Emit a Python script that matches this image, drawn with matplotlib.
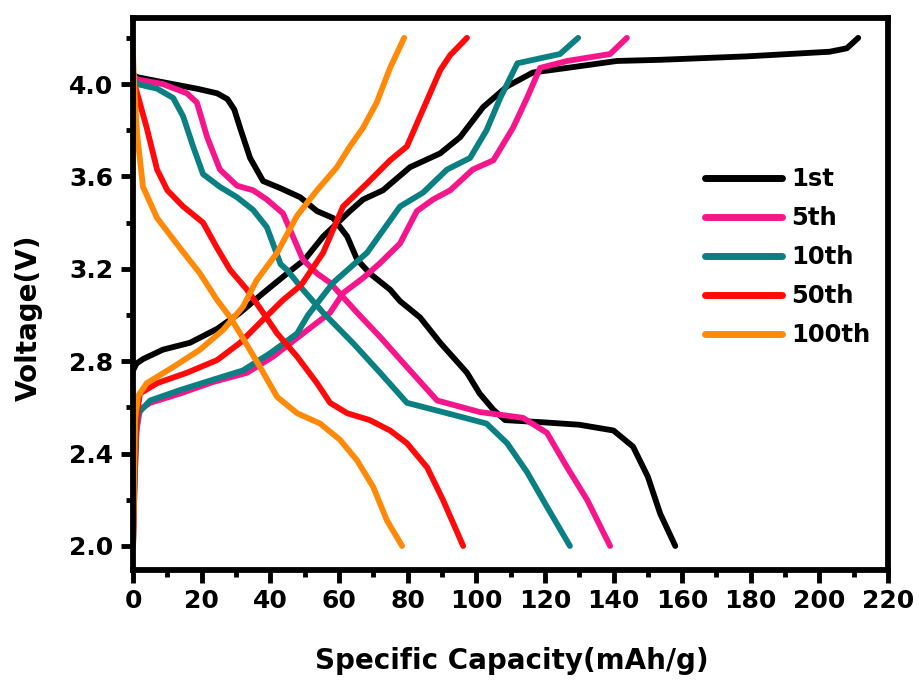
import matplotlib
matplotlib.use("Agg")
import matplotlib.pyplot as plt
from matplotlib.ticker import MultipleLocator

plt.rcParams['font.family'] = ['DejaVu Sans']
plt.rcParams['font.weight'] = 'bold'

labels = ['1st', '5th', '10th', '50th', '100th']
colors = ['#000000', '#F5168C', '#0A8082', '#FF0A0A', '#FF8A0A']

# discharge curves
dis_x_1 = [0, 1.2, 8, 18.6, 24.5, 27.5, 29.5, 31.2, 34.1, 37.9, 42.8, 48.7, 53.6, 58.3, 62.4, 65.3, 69, 74.9,
           77.8, 83.6, 89.5, 97.3, 101, 105, 108.4, 120, 130, 140, 145.7, 150, 153.6, 158]
dis_v_1 = [4.04, 4.03, 4.01, 3.98, 3.96, 3.935, 3.89, 3.81, 3.68, 3.58, 3.55, 3.51, 3.45, 3.42, 3.34, 3.24, 3.18, 3.11,
           3.06, 2.99, 2.88, 2.75, 2.66, 2.59, 2.545, 2.535, 2.525, 2.50, 2.43, 2.30, 2.14, 2.0]
dis_x_5 = [0, 1.2, 8.7, 15.7, 18.6, 21.6, 25.3, 30.3, 35, 39, 43.7, 46.6, 49.5, 53.6, 57.4, 65.3, 72,
           79.8, 88.6, 101, 113.6, 120.6, 126.5, 132.3, 139]
dis_v_5 = [4.04, 4.02, 4.0, 3.96, 3.92, 3.77, 3.63, 3.56, 3.54, 3.50, 3.44, 3.34, 3.24, 3.18, 3.14, 3.01, 2.905,
           2.775, 2.63, 2.58, 2.555, 2.49, 2.34, 2.20, 2.0]
dis_x_10 = [0, 1.2, 7, 11.7, 14.6, 17.5, 20.4, 25.3, 30.3, 35, 39, 41, 43, 44.9, 49.5, 55.4, 64, 72,
            79.8, 91.5, 103, 109, 114.8, 120.6, 127.3]
dis_v_10 = [4.03, 4.0, 3.98, 3.94, 3.86, 3.73, 3.61, 3.555, 3.51, 3.455, 3.38, 3.30, 3.22, 3.195, 3.11, 3.01, 2.88, 2.75,
            2.62, 2.575, 2.53, 2.445, 2.32, 2.17, 2.0]
dis_x_50 = [0, 1.2, 4, 7, 10, 14.6, 20.4, 24.5, 28.3, 33.2, 37.9, 42, 47.8, 53.6, 57.4, 62.4, 69, 74.9,
            79.8, 85.7, 90.3, 96.2]
dis_v_50 = [4.02, 3.96, 3.81, 3.63, 3.54, 3.47, 3.40, 3.29, 3.195, 3.11, 3.01, 2.92, 2.82, 2.705, 2.62, 2.575, 2.545, 2.50,
            2.445, 2.34, 2.20, 2.0]
dis_x_100 = [0, 0.5, 1.2, 2.9, 7, 13.7, 19.5, 24.5, 28.3, 31.2, 37, 42, 47.8, 54.5, 60.3, 65.3, 70, 74, 78.4]
dis_v_100 = [4.12, 3.95, 3.78, 3.555, 3.42, 3.29, 3.18, 3.065, 2.99, 2.92, 2.775, 2.645, 2.575, 2.53, 2.46, 2.37,
             2.255, 2.11, 2.0]

# charge curves
chg_x_1 = [0, 1, 3, 8.7, 16.6, 24.5, 31.2, 37.9, 44.9, 50, 55.4, 63.2, 67, 72.8, 80.7, 89.5, 95.3, 102, 109,
           116.5, 126.5, 141, 153.6, 179, 203, 208, 211.3]
chg_v_1 = [2.76, 2.79, 2.81, 2.85, 2.88, 2.94, 3.01, 3.095, 3.18, 3.24, 3.34, 3.45, 3.50, 3.54, 3.64, 3.70, 3.77, 3.90, 3.99,
           4.05, 4.07, 4.10, 4.105, 4.12, 4.14, 4.155, 4.2]
chg_x_5 = [0, 0.5, 1.0, 2.0, 5, 13.7, 23.3, 33.2, 40.8, 49.5, 57.4, 61.2, 67, 72, 77.8, 82.7, 87.4, 92.4, 99,
           105, 110.7, 114.8, 118.6, 126.5, 139, 143.9]
chg_v_5 = [2.0, 2.3, 2.5, 2.59, 2.62, 2.66, 2.71, 2.75, 2.82, 2.92, 3.01, 3.095, 3.16, 3.225, 3.31, 3.45, 3.50, 3.54, 3.63,
           3.67, 3.81, 3.94, 4.07, 4.10, 4.13, 4.2]
chg_x_10 = [0, 0.5, 1.0, 1.5, 5, 13.7, 23.3, 32, 40, 47.8, 51, 58.3, 68.2, 77.8, 84.5, 91.5, 98.2, 103, 107,
            112, 124.4, 129.7]
chg_v_10 = [2.0, 2.3, 2.5, 2.575, 2.63, 2.675, 2.72, 2.76, 2.835, 2.92, 3.0, 3.14, 3.27, 3.47, 3.53, 3.63, 3.68, 3.80, 3.94,
            4.09, 4.13, 4.2]
chg_x_50 = [0, 0.5, 1.0, 2.0, 7, 15.7, 24.5, 31.2, 37.9, 43.7, 49, 55.4, 61.2, 68.2, 74.9, 79.8, 84.5, 89.5,
            92.4, 97.3]
chg_v_50 = [2.0, 2.35, 2.55, 2.66, 2.705, 2.75, 2.805, 2.88, 2.98, 3.065, 3.13, 3.27, 3.47, 3.57, 3.67, 3.73, 3.89, 4.06,
            4.125, 4.2]
chg_x_100 = [0, 0.3, 0.6, 1.5, 4, 11.7, 19.5, 26.2, 32, 36, 42, 47.8, 53.6, 59.4, 63.2, 67, 71, 74.9, 79]
chg_v_100 = [2.0, 2.3, 2.55, 2.65, 2.705, 2.775, 2.85, 2.935, 3.035, 3.15, 3.27, 3.43, 3.54, 3.64, 3.73, 3.81, 3.92,
             4.07, 4.2]

discharge = [(dis_x_1, dis_v_1), (dis_x_5, dis_v_5), (dis_x_10, dis_v_10), (dis_x_50, dis_v_50), (dis_x_100, dis_v_100)]
charge = [(chg_x_1, chg_v_1), (chg_x_5, chg_v_5), (chg_x_10, chg_v_10), (chg_x_50, chg_v_50), (chg_x_100, chg_v_100)]

fig = plt.figure(figsize=(9.2, 6.82), dpi=100)
ax = fig.add_axes([0.1446, 0.1642, 0.8207, 0.8094])

lw = 4.2
for (dx, dv), (cx, cv), lab, col in zip(discharge, charge, labels, colors):
    ax.plot(dx, dv, color=col, lw=lw, label=lab, solid_capstyle='round', solid_joinstyle='round')
    ax.plot(cx, cv, color=col, lw=lw, solid_capstyle='round', solid_joinstyle='round')

ax.set_xlim(0, 220)
ax.set_ylim(1.896, 4.286)
ax.xaxis.set_major_locator(MultipleLocator(20))
ax.xaxis.set_minor_locator(MultipleLocator(10))
ax.yaxis.set_major_locator(MultipleLocator(0.4))
ax.yaxis.set_minor_locator(MultipleLocator(0.2))
ax.set_yticks([2.0, 2.4, 2.8, 3.2, 3.6, 4.0])
ax.set_yticklabels(['2.0', '2.4', '2.8', '3.2', '3.6', '4.0'])

for s in ax.spines.values():
    s.set_linewidth(4.2)
ax.tick_params(which='major', direction='out', length=9, width=3.5, labelsize=18, pad=5)
ax.tick_params(which='minor', direction='out', length=5, width=3.5)
for t in ax.get_xticklabels() + ax.get_yticklabels():
    t.set_fontweight('bold')

ax.set_xlabel('Specific Capacity(mAh/g)', fontsize=20, fontweight='bold')
ax.set_ylabel('Voltage(V)', fontsize=20, fontweight='bold')
ax.xaxis.set_label_coords(0.502, -0.14)
ax.yaxis.set_label_coords(-0.12, 0.457)

leg = ax.legend(loc='upper left', bbox_to_anchor=(0.757, 0.73), frameon=False,
                prop={'size': 17.5, 'weight': 'bold'}, handlelength=3.2, handletextpad=0.35,
                labelspacing=0.62, borderpad=0, borderaxespad=0)
for h in leg.get_lines():
    h.set_linewidth(5)
    h.set_solid_capstyle('round')

fig.savefig('out.png', dpi=100)
